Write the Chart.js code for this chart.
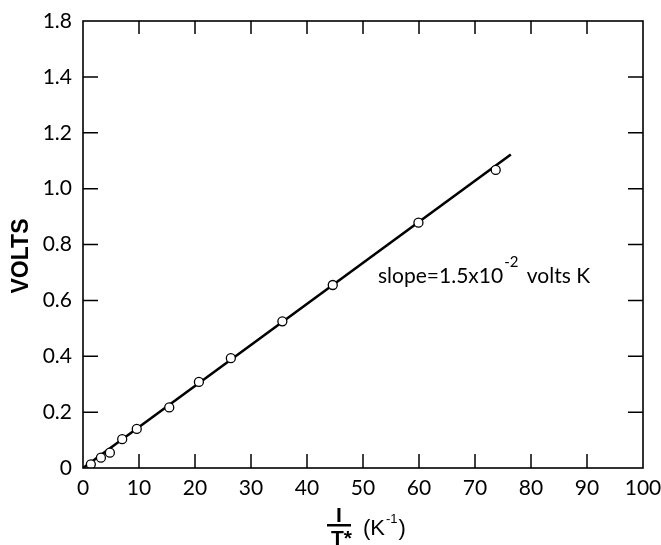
<!DOCTYPE html>
<html>
<head>
<meta charset="utf-8">
<script src="https://cdn.jsdelivr.net/npm/chart.js@4/dist/chart.umd.min.js"></script>
<style>
  html, body { margin: 0; padding: 0; background: #ffffff; }
  #wrap { width: 661px; height: 545px; position: relative; }
</style>
</head>
<body>
<div id="wrap"><canvas id="c" width="661" height="545"></canvas></div>
<script>
// ---- data ----
const invT = [1.4, 3.2, 4.8, 7.0, 9.6, 15.4, 20.7, 26.4, 35.6, 44.6, 59.9, 73.7];
const volts = [0.013, 0.037, 0.055, 0.103, 0.14, 0.217, 0.308, 0.393, 0.525, 0.655, 0.878, 1.067];
const fitX = [0, 76.4];
const fitY = [0, 1.122];
const xTickLabels = ['0', '10', '20', '30', '40', '50', '60', '70', '80', '90', '100'];
const yTickLabels = ['0', '0.2', '0.4', '0.6', '0.8', '1.0', '1.2', '1.4', '1.8'];
const yTitle = 'VOLTS';
const xTitleNum = 'I';
const xTitleDen = 'T*';
const xTitleUnit = '(K';
const xTitleUnitExp = '-1';
const noteMain = 'slope=1.5x10';
const noteExp = '-2';
const noteTail = ' volts K';

const tickFont = '"Lato", "DejaVu Sans", sans-serif';

const framePlugin = {
  id: 'frame',
  afterDraw(chart) {
    const ctx = chart.ctx;
    const a = chart.chartArea;
    const xs = chart.scales.x, ys = chart.scales.y;
    ctx.save();
    ctx.strokeStyle = '#000';
    ctx.lineWidth = 1.6;
    ctx.strokeRect(a.left, a.top, a.right - a.left, a.bottom - a.top);
    ctx.lineWidth = 1.5;
    ctx.beginPath();
    xs.ticks.forEach((t, i) => {
      if (i === 0 || i === xs.ticks.length - 1) return;
      const px = xs.getPixelForValue(t.value);
      ctx.moveTo(px, a.bottom); ctx.lineTo(px, a.bottom - 14);
      ctx.moveTo(px, a.top); ctx.lineTo(px, a.top + 13);
    });
    ys.ticks.forEach((t, i) => {
      if (i === 0 || i === ys.ticks.length - 1) return;
      const py = ys.getPixelForValue(t.value);
      ctx.moveTo(a.left, py); ctx.lineTo(a.left + 15, py);
      ctx.moveTo(a.right, py); ctx.lineTo(a.right - 15, py);
    });
    ctx.stroke();

    // y title
    ctx.fillStyle = '#000';
    ctx.font = 'bold 23px "Liberation Sans", Arial, sans-serif';
    ctx.textAlign = 'center';
    ctx.textBaseline = 'middle';
    ctx.save();
    ctx.translate(22, 256);
    ctx.rotate(-Math.PI / 2);
    ctx.fillText(yTitle, 0, 0);
    ctx.restore();

    // x title: fraction 1/T* (K^-1)
    const fx = 339;
    ctx.font = 'bold 21px "Liberation Sans", Arial, sans-serif';
    ctx.textBaseline = 'alphabetic';
    ctx.textAlign = 'center';
    ctx.fillText(xTitleNum, fx, 522);
    ctx.fillRect(fx - 12, 524, 24, 2.5);
    ctx.textAlign = 'left';
    ctx.fillText(xTitleDen, fx - 8, 545);
    ctx.font = '22px "Liberation Sans", Arial, sans-serif';
    ctx.fillText(xTitleUnit, 363, 535);
    let w = ctx.measureText(xTitleUnit).width;
    ctx.font = '13px "Liberation Sans", Arial, sans-serif';
    ctx.fillText(xTitleUnitExp, 363 + w + 1, 523);
    let w2 = ctx.measureText(xTitleUnitExp).width;
    ctx.font = '22px "Liberation Sans", Arial, sans-serif';
    ctx.fillText(')', 363 + w + w2 + 2, 535);

    // slope annotation
    ctx.font = '21px ' + tickFont;
    ctx.textAlign = 'left';
    const nx = 378, ny = 283;
    ctx.fillText(noteMain, nx, ny);
    const m1 = ctx.measureText(noteMain).width;
    ctx.font = '15px ' + tickFont;
    ctx.fillText(noteExp, nx + m1 + 1, ny - 16);
    const m2 = ctx.measureText(noteExp).width;
    ctx.font = '21px ' + tickFont;
    ctx.fillText(noteTail, nx + m1 + m2 + 4, ny);
    ctx.restore();
  }
};

new Chart(document.getElementById('c'), {
  type: 'scatter',
  data: {
    datasets: [
      {
        label: 'data',
        data: invT.map((x, i) => ({ x: x, y: volts[i] })),
        showLine: false,
        pointRadius: 4.5,
        pointBackgroundColor: '#ffffff',
        pointBorderColor: '#000000',
        pointBorderWidth: 1.3
      },
      {
        label: 'fit',
        data: fitX.map((x, i) => ({ x: x, y: fitY[i] })),
        showLine: true,
        borderColor: '#000000',
        borderWidth: 2.6,
        pointRadius: 0
      }
    ]
  },
  options: {
    responsive: false,
    animation: false,
    layout: { padding: { top: 21, right: 18, left: 0, bottom: 0 } },
    plugins: { legend: { display: false }, tooltip: { enabled: false } },
    scales: {
      x: {
        type: 'linear',
        min: 0, max: 100,
        grid: { display: false, drawTicks: false },
        border: { display: false },
        afterFit(s) { s.height = 77; s.paddingLeft = 0; s.paddingRight = 0; },
        ticks: {
          stepSize: 10,
          padding: 8,
          color: '#000',
          font: { family: tickFont, size: 21 },
          maxRotation: 0,
          callback: (v, i) => xTickLabels[i]
        }
      },
      y: {
        type: 'linear',
        min: 0, max: 1.6,
        grid: { display: false, drawTicks: false },
        border: { display: false },
        afterFit(s) { s.width = 83; s.paddingTop = 0; s.paddingBottom = 0; },
        ticks: {
          stepSize: 0.2,
          padding: 11,
          color: '#000',
          font: { family: tickFont, size: 21 },
          callback: (v, i) => yTickLabels[i]
        }
      }
    }
  },
  plugins: [framePlugin]
});
</script>
</body>
</html>
